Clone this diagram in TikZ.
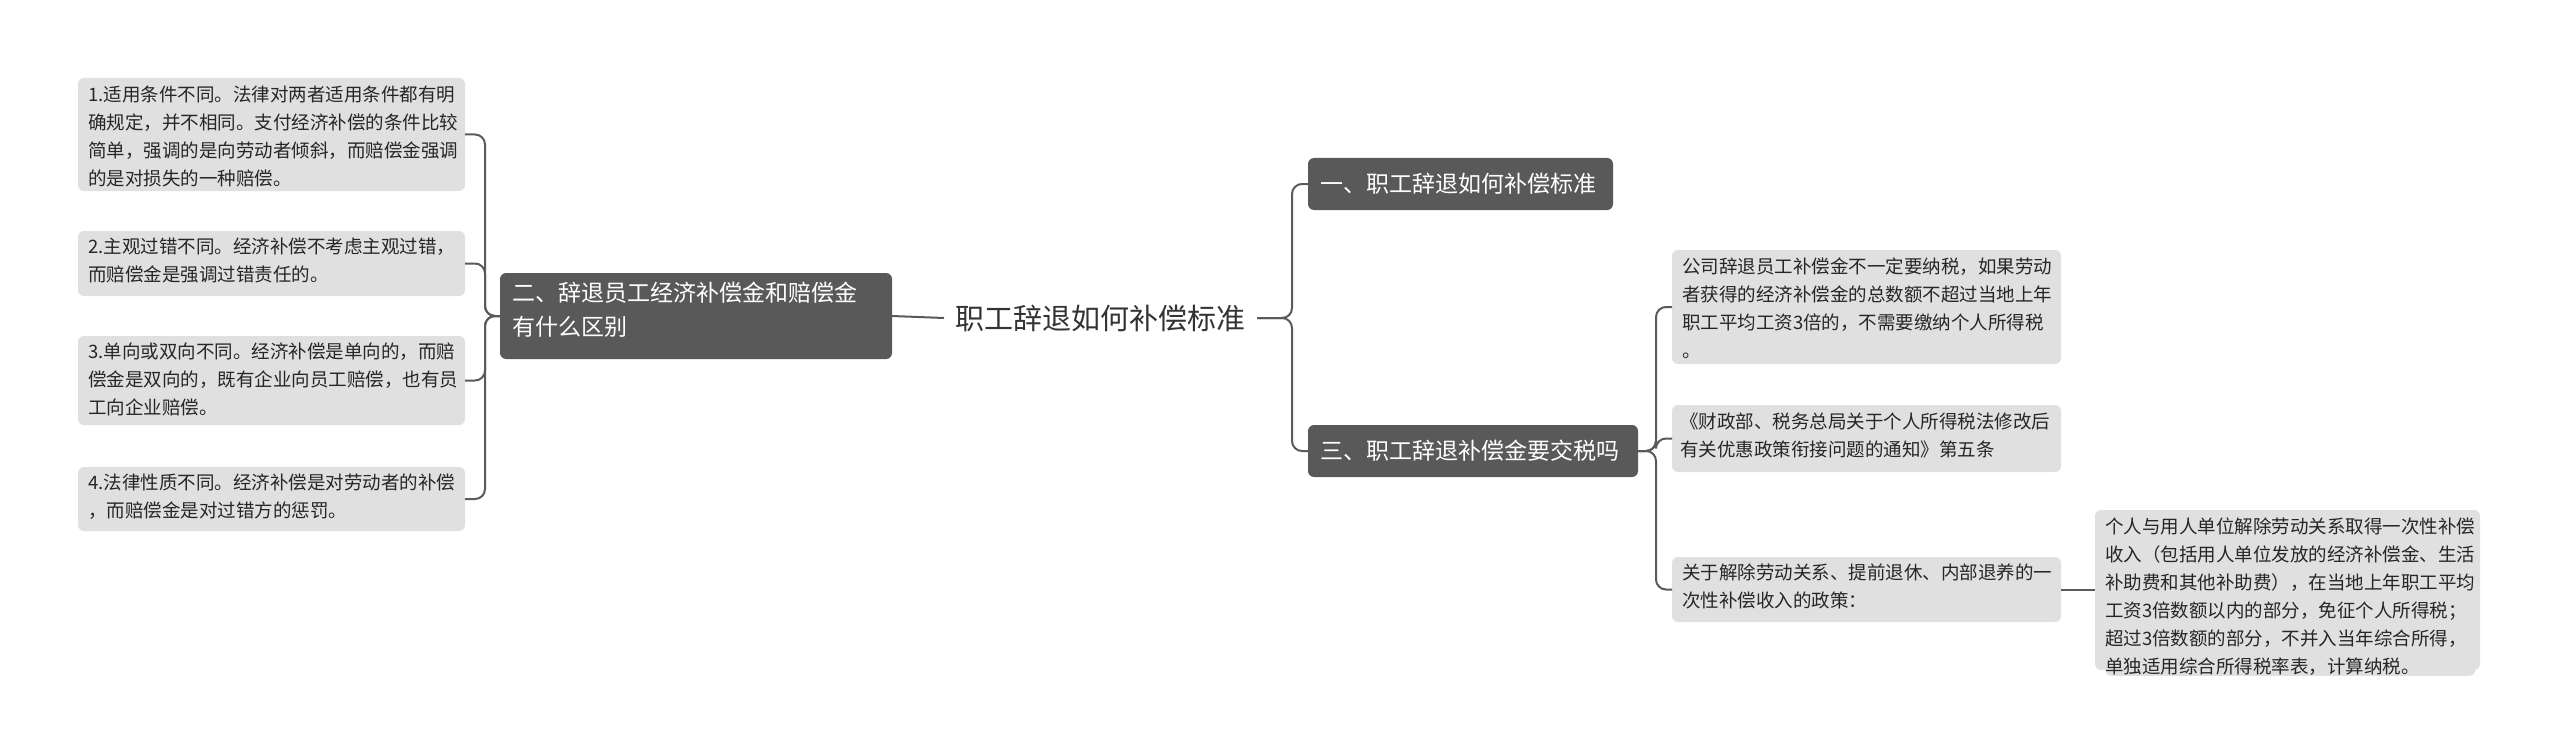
\documentclass[tikz,border=0pt]{standalone}
\usepackage{fontspec}
\setmainfont{Noto Sans CJK SC}
\begin{document}
\begin{tikzpicture}[x=1pt,y=-1pt,
  leaf/.style={fill=leafc,rounded corners=6pt,anchor=north west,align=left,font=\fontsize{18.5}{28}\selectfont,text=black!85,inner sep=0pt},
  br/.style={fill=darkc,rounded corners=6pt,text=white,font=\fontsize{23}{34}\selectfont,align=left,anchor=north west,inner sep=0pt},
  ln/.style={draw=linec,line width=2pt,rounded corners=10pt}]
\definecolor{leafc}{HTML}{E0E0E0}
\definecolor{darkc}{HTML}{595959}
\definecolor{linec}{HTML}{5A5A5A}
\useasboundingbox (0,0) rectangle (2560,749);
% boxes as rectangles with text nodes
\newcommand{\bx}[6]{% name, x1,y1,x2,y2, style
  \path[#6] (#2,#3) rectangle (#4,#5);
  \coordinate (#1w) at (#2,{(#3+#5)/2});
  \coordinate (#1e) at (#4,{(#3+#5)/2});}
\bx{L1}{78}{78}{465}{191}{fill=leafc,rounded corners=6pt}
\node[leaf] (t1) at (88,86) {1.适用条件不同。法律对两者适用条件都有明\\确规定，并不相同。支付经济补偿的条件比较\\简单，强调的是向劳动者倾斜，而赔偿金强调\\的是对损失的一种赔偿。};
\bx{L2}{78}{231}{465}{296}{fill=leafc,rounded corners=6pt}
\node[leaf] (t2) at (88,238) {2.主观过错不同。经济补偿不考虑主观过错，\\而赔偿金是强调过错责任的。};
\bx{L3}{78}{336}{465}{425}{fill=leafc,rounded corners=6pt}
\node[leaf] (t3) at (88,343) {3.单向或双向不同。经济补偿是单向的，而赔\\偿金是双向的，既有企业向员工赔偿，也有员\\工向企业赔偿。};
\bx{L4}{78}{467}{465}{531}{fill=leafc,rounded corners=6pt}
\node[leaf] (t4) at (88,474) {4.法律性质不同。经济补偿是对劳动者的补偿\\，而赔偿金是对过错方的惩罚。};
\bx{B2}{500}{273}{892}{359}{fill=darkc,rounded corners=6pt}
\node[br] (tb2) at (512,282) {二、辞退员工经济补偿金和赔偿金\\有什么区别};
\node[font=\fontsize{29}{34}\selectfont,text=black!80,inner sep=0pt] (c) at (1100,318) {职工辞退如何补偿标准};
\coordinate (cw) at (944,318); \coordinate (ce) at (1257,318);
\bx{B1}{1308}{158}{1613}{210}{fill=darkc,rounded corners=6pt}
\node[br,anchor=west] (tb1) at (1320,184) {一、职工辞退如何补偿标准};
\bx{B3}{1308}{425}{1638}{477}{fill=darkc,rounded corners=6pt}
\node[br,anchor=west] (tb3) at (1320,451) {三、职工辞退补偿金要交税吗};
\bx{R1}{1672}{250}{2061}{364}{fill=leafc,rounded corners=6pt}
\node[leaf] (r1) at (1682,258) {公司辞退员工补偿金不一定要纳税，如果劳动\\者获得的经济补偿金的总数额不超过当地上年\\职工平均工资3倍的，不需要缴纳个人所得税\\。};
\bx{R2}{1672}{405}{2061}{472}{fill=leafc,rounded corners=6pt}
\node[leaf] (r2) at (1680,413) {《财政部、税务总局关于个人所得税法修改后\\有关优惠政策衔接问题的通知》第五条};
\bx{R3}{1672}{557}{2061}{622}{fill=leafc,rounded corners=6pt}
\node[leaf] (r3) at (1682,564) {关于解除劳动关系、提前退休、内部退养的一\\次性补偿收入的政策：};
\bx{R4}{2095}{510}{2480}{670}{fill=leafc,rounded corners=6pt}
\node[leaf] (r4) at (2105,518) {个人与用人单位解除劳动关系取得一次性补偿\\收入（包括用人单位发放的经济补偿金、生活\\补助费和其他补助费），在当地上年职工平均\\工资3倍数额以内的部分，免征个人所得税；\\超过3倍数额的部分，不并入当年综合所得，\\单独适用综合所得税率表，计算纳税。};
% connectors
\foreach \t in {L1,L2,L3,L4} \draw[ln] (B2w) -- (485,316) |- (\t e);
\draw[ln] (B2e) -- (cw);
\foreach \t in {B1,B3} \draw[ln] (ce) -- (1292,318) |- (\t w);
\foreach \t in {R1,R2,R3} \draw[ln] (B3e) -- (1656,451) |- (\t w);
\draw[ln] (R3e) -- (R4w |- R3e);
\end{tikzpicture}
\end{document}
